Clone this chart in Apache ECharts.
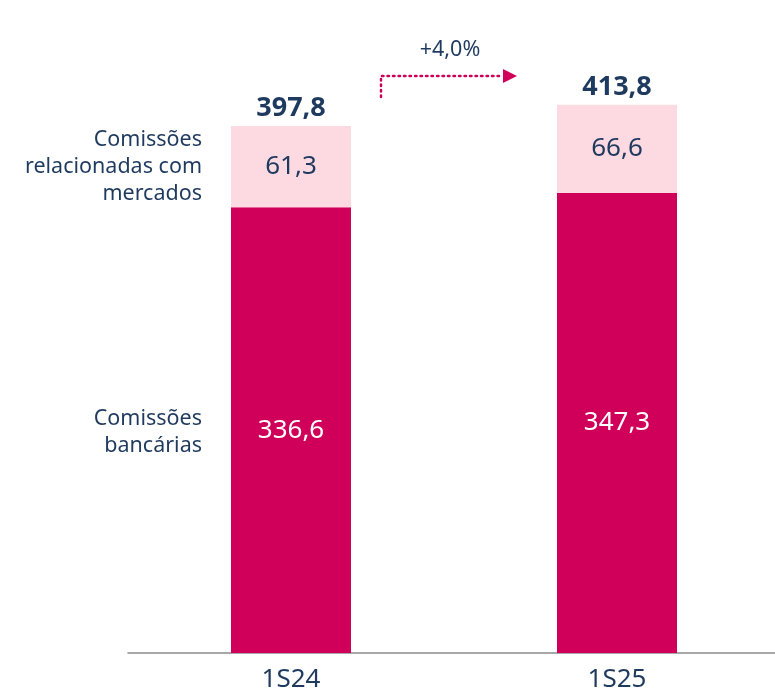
<!DOCTYPE html>
<html>
<head>
<meta charset="utf-8">
<script src="https://cdn.jsdelivr.net/npm/echarts@6/dist/echarts.min.js"></script>
<style>
  html, body { margin: 0; padding: 0; background: #fff; }
  #chart { width: 775px; height: 694px; }
</style>
</head>
<body>
<div id="chart"></div>
<script>
// dados
const categories = ['1S24', '1S25'];
const bancarias = [336.6, 347.3];
const mercados = [61.3, 66.6];
const totals = [397.8, 413.8];
const seriesNames = ['Comissões bancárias', 'Comissões relacionadas com mercados'];
const growthLabel = '+4,0%';

const navy = '#1f3a5f';
const crimson = '#d0005a';
const pink = '#fddae2';
const font = 'Noto Sans';

const fmt = v => v.toFixed(1).replace('.', ',');

const myChart = echarts.init(document.getElementById('chart'));

const option = {
  animation: false,
  textStyle: { fontFamily: font },
  grid: { left: 128, top: 57, right: -5, bottom: 41, outerBoundsMode: 'none', containLabel: false },
  xAxis: {
    type: 'category',
    data: categories,
    axisLine: { lineStyle: { color: '#8a8a8a', width: 1.5 } },
    axisTick: { show: false },
    axisLabel: { color: navy, fontSize: 26, margin: 14, fontFamily: font }
  },
  yAxis: {
    type: 'value',
    min: 0,
    max: 450,
    show: false,
    splitLine: { show: false }
  },
  series: [
    {
      name: seriesNames[0],
      type: 'bar',
      stack: 'total',
      barWidth: 120,
      data: bancarias,
      itemStyle: { color: crimson },
      label: {
        show: true,
        position: 'inside',
        color: '#fff',
        fontSize: 26,
        fontFamily: font,
        formatter: p => fmt(p.value)
      }
    },
    {
      name: seriesNames[1],
      type: 'bar',
      stack: 'total',
      barWidth: 120,
      data: mercados,
      itemStyle: { color: pink },
      label: {
        show: true,
        position: 'inside',
        color: navy,
        fontSize: 26,
        fontFamily: font,
        formatter: p => fmt(p.value)
      }
    },
    {
      name: 'total',
      type: 'bar',
      barWidth: 120,
      barGap: '-100%',
      data: totals,
      itemStyle: { color: 'rgba(0,0,0,0)' },
      silent: true,
      z: 1,
      label: {
        show: true,
        position: 'top',
        distance: 4,
        color: navy,
        fontSize: 27,
        fontWeight: 'bold',
        fontFamily: font,
        formatter: p => fmt(p.value)
      }
    }
  ]
};

myChart.setOption(option);

// anotações posicionadas a partir das escalas
function annotate() {
  const p0 = myChart.convertToPixel({ gridIndex: 0 }, [0, 0]);
  const p1 = myChart.convertToPixel({ gridIndex: 0 }, [1, 0]);
  const yMid0 = myChart.convertToPixel({ gridIndex: 0 }, [0, bancarias[0] + mercados[0] / 2])[1];
  const yLow0 = myChart.convertToPixel({ gridIndex: 0 }, [0, bancarias[0] / 2])[1];
  const yTop1 = myChart.convertToPixel({ gridIndex: 0 }, [1, totals[1]])[1];
  const half = 60;
  const labelX = p0[0] - half - 29;
  const ax = p0[0] + half + 30;
  const bx = p1[0] - half - 54;
  const ay = yTop1 - 29;
  const txt = '21.5px "' + font + '"';
  myChart.setOption({
    graphic: [
      {
        type: 'text', x: labelX, y: yMid0,
        style: {
          text: seriesNames[1].replace(' relacionadas com ', '\nrelacionadas com\n'),
          fill: navy, font: txt, align: 'right', verticalAlign: 'middle', lineHeight: 27
        }
      },
      {
        type: 'text', x: labelX, y: yLow0 + 2,
        style: {
          text: seriesNames[0].replace(' ', '\n'),
          fill: navy, font: txt, align: 'right', verticalAlign: 'middle', lineHeight: 27
        }
      },
      {
        type: 'polyline',
        shape: { points: [[ax, ay + 21], [ax, ay], [bx, ay]] },
        style: { stroke: crimson, lineWidth: 2.5, lineDash: [1.5, 4], fill: null, lineCap: 'round' }
      },
      {
        type: 'polygon',
        shape: { points: [[bx, ay - 7], [bx + 14, ay], [bx, ay + 7]] },
        style: { fill: crimson }
      },
      {
        type: 'text', x: (ax + bx) / 2 + 8, y: ay - 26,
        style: {
          text: growthLabel, fill: navy, font: txt,
          align: 'center', verticalAlign: 'middle'
        }
      }
    ]
  });
}
annotate();
</script>
</body>
</html>
